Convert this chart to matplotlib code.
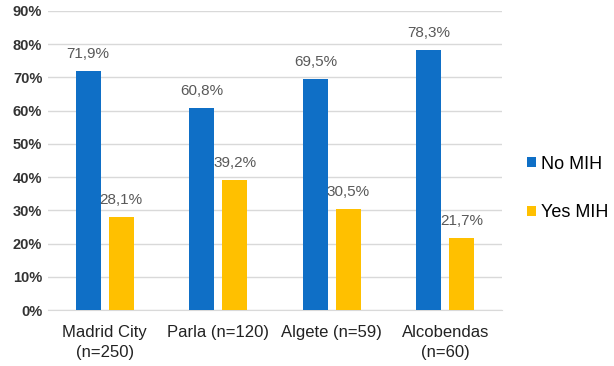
import matplotlib
matplotlib.use("Agg")
import matplotlib.pyplot as plt
import numpy as np

categories = ["Madrid City\n(n=250)", "Parla (n=120)", "Algete (n=59)", "Alcobendas\n(n=60)"]
no_mih = [71.9, 60.8, 69.5, 78.3]
yes_mih = [28.1, 39.2, 30.5, 21.7]
series_names = ["No MIH", "Yes MIH"]

plt.rcParams['font.family'] = ['Liberation Sans', 'DejaVu Sans']

fig = plt.figure(figsize=(6.14, 3.66), dpi=100)
ax = fig.add_axes([0.078, 0.153, 0.74, 0.817])

x = np.arange(len(categories))
w = 0.22
off = 0.145
b1 = ax.bar(x - off, no_mih, w, color="#0F6FC6", label=series_names[0], zorder=3)
b2 = ax.bar(x + off, yes_mih, w, color="#FFC000", label=series_names[1], zorder=3)

for bars, vals in ((b1, no_mih), (b2, yes_mih)):
    for r, v in zip(bars, vals):
        ax.annotate(f"{v:.1f}%".replace(".", ","), (r.get_x() + r.get_width() / 2, v),
                    xytext=(0, 7), textcoords="offset points", ha="center", va="bottom",
                    fontsize=11, color="#595959")

ax.set_xlim(-0.5, 3.5)
ax.set_ylim(0, 90)
ax.set_yticks(np.arange(0, 91, 10))
ax.set_yticklabels([f"{t}%" for t in range(0, 91, 10)], fontsize=10.5, fontweight="bold", color="#333333")
ax.set_xticks(x)
ax.set_xticklabels(categories, fontsize=12, color="#222222", linespacing=1.4)
ax.grid(axis="y", color="#D9D9D9", linewidth=1, zorder=0)
for s in ax.spines.values():
    s.set_visible(False)
ax.spines["bottom"].set_visible(True)
ax.spines["bottom"].set_color("#D9D9D9")
ax.tick_params(axis="both", length=0)
ax.tick_params(axis="x", pad=11)
ax.tick_params(axis="y", pad=4)

leg = fig.legend(handles=[b1, b2], labels=series_names, loc="center left",
                 bbox_to_anchor=(0.858, 0.485), frameon=False, fontsize=13,
                 handlelength=0.5, handleheight=0.5, handletextpad=0.3, labelspacing=1.75,
                 borderaxespad=0, borderpad=0)

fig.savefig("out.png", dpi=100)
